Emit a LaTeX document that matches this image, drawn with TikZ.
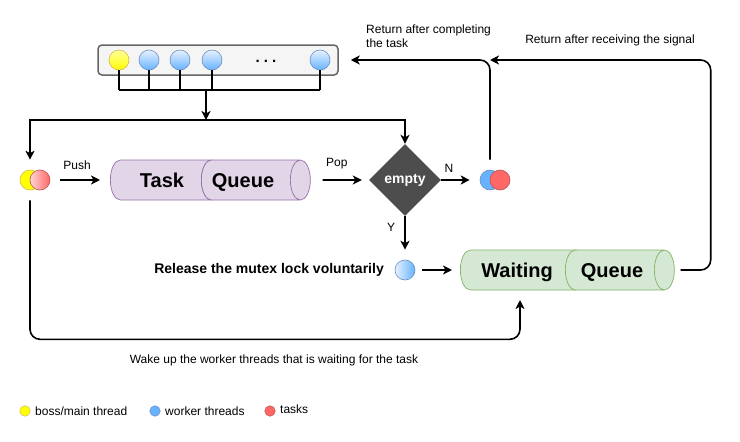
\documentclass[tikz,border=0pt]{standalone}
\usepackage{fontspec}
\setmainfont{Liberation Sans}
\usetikzlibrary{positioning,shapes.geometric,arrows.meta}

\definecolor{queuefill}{HTML}{E1D5E7}
\definecolor{queuedraw}{HTML}{9673A6}
\definecolor{waitfill}{HTML}{D5E8D4}
\definecolor{waitdraw}{HTML}{82B366}
\definecolor{poolfill}{HTML}{F5F5F5}
\definecolor{pooldraw}{HTML}{666666}
\definecolor{emptyfill}{HTML}{4D4D4D}
\definecolor{yel}{HTML}{FFFF00}
\definecolor{yellight}{HTML}{FFFF99}
\definecolor{yeldraw}{HTML}{D6B656}
\definecolor{blu}{HTML}{66B2FF}
\definecolor{blulight}{HTML}{E6F2FF}
\definecolor{bludraw}{HTML}{6C8EBF}
\definecolor{rd}{HTML}{FF6666}
\definecolor{rdlight}{HTML}{FFD6D6}
\definecolor{rddraw}{HTML}{B85450}

\begin{document}
\begin{tikzpicture}[x=1pt,y=-1pt,
>={Stealth[length=9pt,width=9pt,inset=2.5pt]},
thread/.style={circle, minimum size=20pt, inner sep=0pt, line width=0.6pt},
legenddot/.style={circle, minimum size=10.5pt, inner sep=0pt, line width=0.5pt},
poolbox/.style={rectangle, rounded corners=4pt, draw=pooldraw, fill=poolfill, line width=1.5pt, minimum width=240pt, minimum height=30pt},
taskcyl/.style={cylinder, shape border rotate=0, aspect=0.5, inner xsep=0pt, inner ysep=20pt, anchor=west, draw=queuedraw, line width=0.7pt, cylinder uses custom fill, cylinder body fill=queuefill, cylinder end fill=queuefill},
waitcyl/.style={taskcyl, draw=waitdraw, cylinder body fill=waitfill, cylinder end fill=waitfill},
queuetext/.style={inner sep=0pt, anchor=base, font=\fontsize{20}{24}\selectfont\bfseries},
emptybox/.style={diamond, fill=emptyfill, minimum width=72pt, minimum height=72pt, inner sep=0pt, text=white, font=\fontsize{14}{16}\selectfont\bfseries},
note/.style={inner sep=0pt, font=\fontsize{12}{13.5}\selectfont},
bignote/.style={inner sep=0pt, font=\fontsize{14}{16}\selectfont\bfseries},
line/.style={line width=1.6pt},
]
\useasboundingbox (0,0) rectangle (740,442);

%Nodes
\node[poolbox] (pool) at (218,60) {};
\node[thread, top color=yellight, bottom color=yel, draw=yeldraw] (p0) at (119,60) {};
\node[thread, top color=blulight, bottom color=blu, draw=bludraw] (p1) at (149,60) {};
\node[thread, top color=blulight, bottom color=blu, draw=bludraw] (p2) at (180,60) {};
\node[thread, top color=blulight, bottom color=blu, draw=bludraw] (p3) at (212,60) {};
\node[thread, top color=blulight, bottom color=blu, draw=bludraw] (p4) at (320,60) {};
\node[inner sep=0pt, font=\fontsize{15}{15}\selectfont\bfseries] (dots) at (266,61) {.\ .\ .};

\node[thread, fill=yel, draw=yeldraw] (byel) at (30,180) {};
\node[thread, left color=rdlight, right color=rd, draw=rddraw] (bred) at (40,180) {};

\node[taskcyl, minimum height=111pt] (tq) at (110,180) {};
\node[taskcyl, minimum height=109pt] (tq2) at (201,180) {};
\node[queuetext] (tqtext) at (162,187.5) {Task};
\node[queuetext] (tq2text) at (243,187.5) {Queue};

\node[emptybox] (empty) at (405,180) {empty};

\node[thread, fill=blu, draw=bludraw] (nblue) at (490,180) {};
\node[thread, fill=rd, draw=rddraw] (nred) at (500,180) {};

\node[thread, left color=blulight, right color=blu, draw=bludraw] (wblue) at (405,270) {};
\node[bignote, anchor=east] (release) at (384,270) {Release the mutex lock voluntarily};

\node[waitcyl, minimum height=126pt] (wq) at (460,270) {};
\node[waitcyl, minimum height=109pt] (wq2) at (565,270) {};
\node[queuetext] (wqtext) at (517,277) {Waiting};
\node[queuetext] (wq2text) at (612,277) {Queue};

\node[note, anchor=north west, align=left] (ret1) at (366,25) {Return after completing\\the task};
\node[note] (ret2) at (610,40) {Return after receiving the signal};
\node[note] (wake) at (274,360) {Wake up the worker threads that is waiting for the task};

%Legend
\node[legenddot, fill=yel, draw=yeldraw] (lyel) at (25,411) {};
\node[note, right=4.5pt of lyel] (lyeltxt) {boss/main thread};
\node[legenddot, fill=blu, draw=bludraw] (lblu) at (155,411) {};
\node[note, right=4.5pt of lblu] (lblutxt) {worker threads};
\node[legenddot, fill=rd, draw=rddraw] (lrd) at (270,411) {};
\node[note, right=4.5pt of lrd, yshift=1.5pt] (lrdtxt) {tasks};

%Lines
\coordinate (bus) at (206,90);
\coordinate (split) at (206,120);
\coordinate (wqin) at (520,290);
\foreach \p in {p0,p1,p2,p3,p4}
  \draw[line] (\p.south) -- (\p.south |- bus);
\draw[line] (p0.south |- bus) -- (p4.south |- bus);
\draw[line,->] (bus) -- (split);
\draw[line,->,shorten >=10pt] (split) -| (byel.north);
\draw[line,->] (split) -| (empty.north);

\draw[line,->,shorten <=10pt,shorten >=10pt] (bred.east) -- (tq.west)
  node[note, pos=0.45, above=10pt] {Push};
\draw[line,->,shorten <=12pt,shorten >=7pt] (tq2.east) -- (empty.west)
  node[note, pos=0.45, above=10pt] {Pop};
\draw[line,->,shorten >=10pt] (empty.east) -- (nblue.west)
  node[note, pos=0.2, above=7pt] {N};
\draw[line,->,shorten >=10pt] (empty.south) -- (wblue.north)
  node[note, pos=0.25, left=9pt] {Y};
\draw[line,->,shorten <=7pt,shorten >=8pt] (wblue.east) -- (wq.west);

\draw[line,->,rounded corners=10pt,shorten <=10pt,shorten >=12pt] (nblue.north) |- (pool.east);
\draw[line,->,rounded corners=10pt,shorten <=6pt] (wq2.east) -- ++(36,0) |- (nblue.north |- pool.east);
\draw[line,->,rounded corners=10pt,shorten <=10pt,shorten >=10pt] (byel.south) -- ++(0,149) -| (wqin);

\end{tikzpicture}
\end{document}
